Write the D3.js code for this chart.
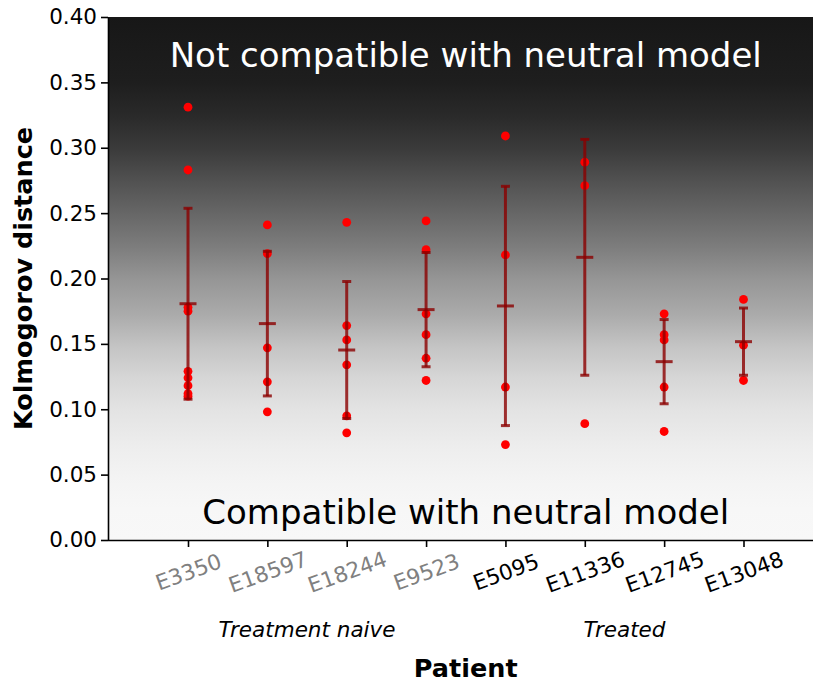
<!DOCTYPE html>
<html>
<head>
<meta charset="utf-8">
<script src="https://cdn.jsdelivr.net/npm/d3@7/dist/d3.min.js"></script>
<style>
  html, body { margin: 0; padding: 0; background: #ffffff; }
  svg { display: block; font-family: "DejaVu Sans", sans-serif; }
</style>
</head>
<body>
<svg id="chart" width="813" height="682"></svg>
<script>
// ---- data ----
const categories = ["E3350", "E18597", "E18244", "E9523", "E5095", "E11336", "E12745", "E13048"];
const groups = ["Treatment naive", "Treatment naive", "Treatment naive", "Treatment naive",
                "Treated", "Treated", "Treated", "Treated"];
const groupNames = ["Treatment naive", "Treated"];
const pointsE3350  = [0.331, 0.283, 0.178, 0.175, 0.129, 0.124, 0.118, 0.112, 0.110];
const pointsE18597 = [0.241, 0.219, 0.147, 0.121, 0.098];
const pointsE18244 = [0.243, 0.164, 0.153, 0.134, 0.095, 0.082];
const pointsE9523  = [0.244, 0.222, 0.173, 0.157, 0.139, 0.122];
const pointsE5095  = [0.309, 0.218, 0.117, 0.073];
const pointsE11336 = [0.289, 0.271, 0.089];
const pointsE12745 = [0.173, 0.157, 0.153, 0.117, 0.083];
const pointsE13048 = [0.184, 0.149, 0.122];
const means  = [0.1807, 0.1655, 0.1453, 0.1762, 0.1790, 0.2162, 0.1364, 0.1517];
const errors = [0.0730, 0.0553, 0.0524, 0.0437, 0.0915, 0.0902, 0.0322, 0.0257];
const yTicks = [0.00, 0.05, 0.10, 0.15, 0.20, 0.25, 0.30, 0.35, 0.40];
const topText = "Not compatible with neutral model";
const bottomText = "Compatible with neutral model";

const pointSets = [pointsE3350, pointsE18597, pointsE18244, pointsE9523,
                   pointsE5095, pointsE11336, pointsE12745, pointsE13048];

// ---- layout ----
const svg = d3.select("#chart");
const plotL = 108, plotR = 824, plotT = 17, plotB = 540;

const x = d3.scalePoint().domain(categories).range([188, 743.5]);
const y = d3.scaleLinear().domain([0, 0.4]).range([plotB, plotT]);
const midX = (i0, i1) => (x(categories[i0]) + x(categories[i1])) / 2;

// gradient background (dark at top, light at bottom)
const gradStops = [
  [0.00, "#171717"], [0.125, "#1e1e1e"], [0.19, "#2a2a2a"], [0.25, "#3a3a3a"],
  [0.31, "#505050"], [0.38, "#686868"], [0.44, "#7d7d7d"], [0.50, "#959595"],
  [0.57, "#ababab"], [0.63, "#c4c4c4"], [0.69, "#d6d6d6"], [0.75, "#e3e3e3"],
  [0.82, "#ededed"], [0.88, "#f3f3f3"], [0.94, "#f7f7f7"], [1.00, "#f8f8f8"]
];
const defs = svg.append("defs");
const grad = defs.append("linearGradient").attr("id", "bg")
  .attr("x1", 0).attr("y1", 0).attr("x2", 0).attr("y2", 1);
gradStops.forEach(s => grad.append("stop").attr("offset", s[0]).attr("stop-color", s[1]));
svg.append("rect").attr("x", plotL).attr("y", plotT)
  .attr("width", plotR - plotL).attr("height", plotB - plotT)
  .attr("fill", "url(#bg)");

// region labels
svg.append("text").attr("x", midX(3, 4)).attr("y", 67)
  .attr("text-anchor", "middle").attr("font-size", 34).attr("fill", "#ffffff")
  .text(topText);
svg.append("text").attr("x", midX(3, 4)).attr("y", 524)
  .attr("text-anchor", "middle").attr("font-size", 34).attr("fill", "#000000")
  .text(bottomText);

// points
const pts = [];
pointSets.forEach((arr, i) => arr.forEach(v => pts.push({c: categories[i], v})));
svg.append("g").selectAll("circle").data(pts).join("circle")
  .attr("cx", d => x(d.c)).attr("cy", d => y(d.v)).attr("r", 4.4)
  .attr("fill", "#ff0000");

// error bars
const eb = svg.append("g").attr("stroke", "#8b0000").attr("stroke-opacity", 0.8)
  .attr("stroke-width", 3).attr("fill", "none");
categories.forEach((c, i) => {
  const cx = x(c), m = means[i], e = errors[i];
  eb.append("line").attr("x1", cx).attr("x2", cx).attr("y1", y(m + e)).attr("y2", y(m - e));
  eb.append("line").attr("x1", cx - 4.5).attr("x2", cx + 4.5).attr("y1", y(m + e)).attr("y2", y(m + e));
  eb.append("line").attr("x1", cx - 4.5).attr("x2", cx + 4.5).attr("y1", y(m - e)).attr("y2", y(m - e));
  eb.append("line").attr("x1", cx - 8.5).attr("x2", cx + 8.5).attr("y1", y(m)).attr("y2", y(m));
});

// y axis
const yAxis = svg.append("g").attr("transform", `translate(${plotL},0)`)
  .call(d3.axisLeft(y).tickValues(yTicks).tickFormat(d3.format(".2f")).tickSize(7).tickSizeOuter(0).tickPadding(4));
yAxis.select(".domain").attr("stroke", "#000").attr("stroke-width", 1.6);
yAxis.selectAll(".tick line").attr("stroke", "#000").attr("stroke-width", 1.6);
yAxis.selectAll(".tick text").attr("font-size", 21.5).attr("fill", "#000")
  .attr("font-family", "DejaVu Sans");

// x axis
const xAxis = svg.append("g").attr("transform", `translate(0,${plotB})`)
  .call(d3.axisBottom(x).tickSize(7).tickSizeOuter(0).tickFormat(d => d));
xAxis.select(".domain").attr("stroke", "#000").attr("stroke-width", 1.6)
  .attr("d", `M${plotL},0.5H${plotR}`);
xAxis.selectAll(".tick line").attr("stroke", "#000").attr("stroke-width", 1.6);
xAxis.selectAll(".tick text")
  .attr("font-size", 21.5).attr("font-family", "DejaVu Sans")
  .attr("fill", (d, i) => groups[i] === "Treatment naive" ? "#808080" : "#000000")
  .attr("text-anchor", "middle").attr("dy", null).attr("y", 0)
  .attr("dominant-baseline", "central")
  .attr("transform", "translate(0,32) rotate(-20)");

// group labels
svg.append("text").attr("x", midX(1, 2)).attr("y", 637)
  .attr("text-anchor", "middle").attr("font-size", 21.5).attr("font-style", "italic")
  .text(groupNames[0]);
svg.append("text").attr("x", midX(5, 6)).attr("y", 637)
  .attr("text-anchor", "middle").attr("font-size", 21.5).attr("font-style", "italic")
  .text(groupNames[1]);

// axis titles
svg.append("text").attr("x", midX(3, 4)).attr("y", 677)
  .attr("text-anchor", "middle").attr("font-size", 25.5).attr("font-weight", "bold")
  .text("Patient");
svg.append("text").attr("transform", `translate(32,${(plotT + plotB) / 2}) rotate(-90)`)
  .attr("text-anchor", "middle").attr("font-size", 25.5).attr("font-weight", "bold")
  .text("Kolmogorov distance");
</script>
</body>
</html>
